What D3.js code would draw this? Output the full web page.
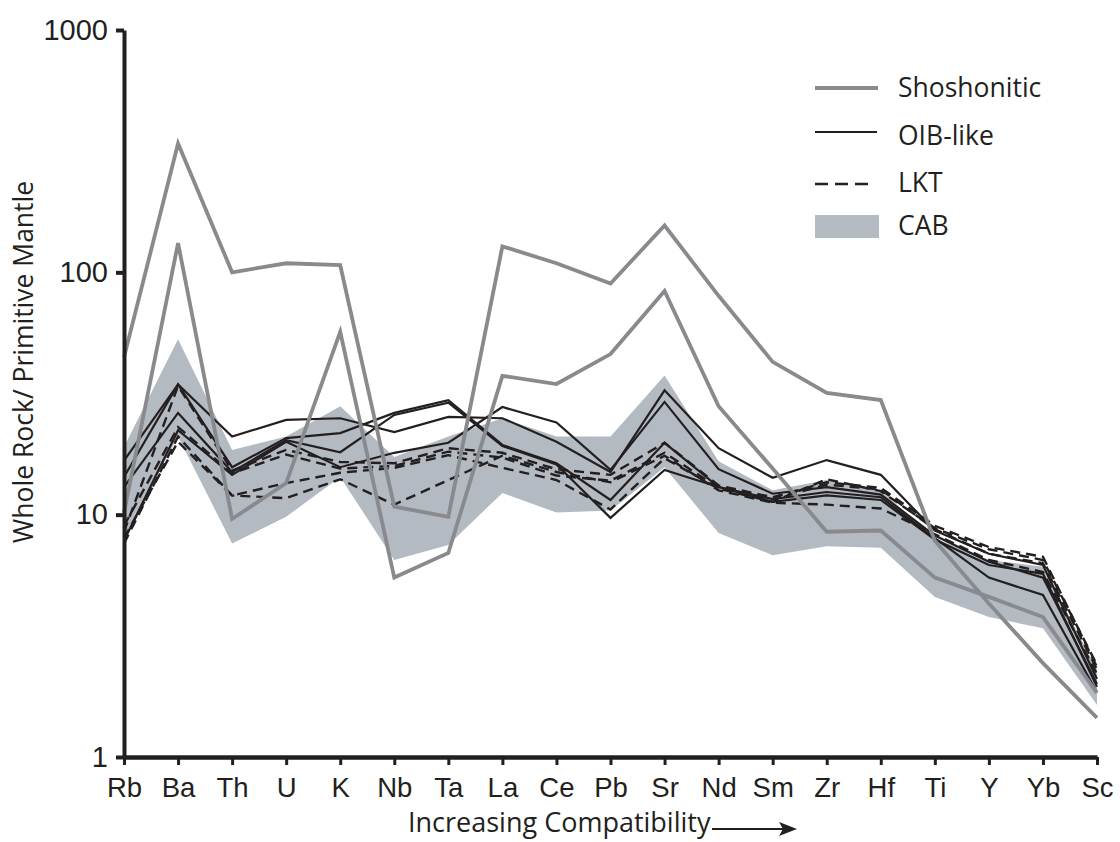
<!DOCTYPE html>
<html>
<head>
<meta charset="utf-8">
<script src="https://cdn.jsdelivr.net/npm/d3@7"></script>
<style>
  html, body { margin: 0; padding: 0; background: #ffffff; }
  svg { display: block; }
</style>
</head>
<body>
<svg id="chart" width="1120" height="842"></svg>
<script>
// ---------- data ----------
const elements = ["Rb","Ba","Th","U","K","Nb","Ta","La","Ce","Pb","Sr","Nd","Sm","Zr","Hf","Ti","Y","Yb","Sc"];
const yTicks = [1, 10, 100, 1000];

// CAB field (upper and lower envelope)
const cabUpper = [19, 53, 18.5, 21, 28, 17.3, 21, 25, 21, 21, 37.5, 16.6, 12.6, 13.9, 12.6, 8, 6.5, 6.1, 2.3];
const cabLower = [8, 21, 7.6, 9.8, 14.3, 6.5, 7.5, 12.3, 10.2, 10.4, 15.7, 8.4, 6.8, 7.4, 7.3, 4.57, 3.78, 3.4, 1.64];

// Shoshonitic samples
const shosh1 = [44.6, 340, 100, 109, 107, 10.8, 9.8, 128, 109, 90, 156, 80, 42.7, 31.8, 29.7, 7.8, 4.3, 2.44, 1.45];
const shosh2 = [10.2, 132, 9.6, 13.5, 56.8, 5.5, 6.95, 37.4, 34.6, 46, 83.8, 28, 15.5, 8.5, 8.6, 5.5, 4.58, 3.78, 1.84];

// OIB-like samples
const oib1 = [16.7, 34.5, 21, 24.6, 25, 21.9, 25.3, 25, 20, 15, 32.6, 18.8, 14.2, 16.8, 14.6, 8.6, 6.9, 6.2, 2.1];
const oib2 = [14.3, 34.5, 15.7, 20.7, 21.7, 26.3, 29.7, 19.4, 16.3, 11.5, 19.8, 13, 11.6, 12.4, 11.8, 8, 5.5, 4.66, 1.85];
const oib3 = [13, 26.3, 15, 20.3, 18.1, 25.8, 29, 19.2, 16.1, 9.7, 15.3, 13, 11.3, 12, 11.5, 7.9, 6.2, 5.7, 1.95];
const oib4 = [7.8, 22.3, 14.6, 20, 15.7, 18, 19.8, 27.8, 24, 15.3, 29.2, 15.4, 12.2, 13, 12.1, 8.2, 6.4, 5.5, 2.0];

// LKT samples
const lkt1 = [8.5, 34, 15.2, 18.5, 16.5, 16.3, 18.8, 18, 15.4, 14.6, 19.8, 13.2, 11.8, 13.6, 12.9, 9.0, 7.35, 6.7, 2.35];
const lkt2 = [8, 20, 12, 13.5, 14.9, 15.6, 17.6, 15.6, 13.9, 10.5, 17.1, 12.8, 11.3, 14, 12.5, 8.8, 7.2, 6.5, 2.4];
const lkt3 = [7.6, 21, 12, 11.7, 14, 11, 13.9, 17.5, 15, 13.6, 17.5, 12.6, 11.2, 11, 10.6, 8.3, 6.5, 5.8, 2.2];
const lkt4 = [9, 23, 14.8, 17.7, 15.5, 15.9, 18.2, 17.2, 14.5, 13.8, 18, 12.9, 11.6, 13.3, 12.7, 8.7, 6.9, 6.3, 2.3];

const legendLabels = ["Shoshonitic", "OIB-like", "LKT", "CAB"];

// ---------- drawing ----------
const svg = d3.select("#chart");
const BLACK = "#231f20", GREY = "#898a8d", FIELD = "#b4bac2";

const x = d3.scalePoint().domain(elements).range([124, 1097]);
const y = d3.scaleLog().domain([1, 1000]).range([757, 30]);

const line = d3.line().x((d, i) => x(elements[i])).y(d => y(d));
const area = d3.area()
  .x((d, i) => x(elements[i]))
  .y0(d => y(d[0]))
  .y1(d => y(d[1]));

// CAB field
svg.append("path")
  .datum(cabLower.map((v, i) => [v, cabUpper[i]]))
  .attr("d", area)
  .attr("fill", FIELD);

// LKT (dashed)
[lkt1, lkt2, lkt3, lkt4].forEach(s => {
  svg.append("path").datum(s).attr("d", line)
    .attr("fill", "none").attr("stroke", BLACK)
    .attr("stroke-width", 2.4).attr("stroke-dasharray", "10,6")
    .attr("stroke-linejoin", "miter");
});

// OIB-like (solid)
[oib1, oib2, oib3, oib4].forEach(s => {
  svg.append("path").datum(s).attr("d", line)
    .attr("fill", "none").attr("stroke", BLACK)
    .attr("stroke-width", 2.2).attr("stroke-linejoin", "miter");
});

// Shoshonitic (grey)
[shosh1, shosh2].forEach(s => {
  svg.append("path").datum(s).attr("d", line)
    .attr("fill", "none").attr("stroke", GREY)
    .attr("stroke-width", 3.8).attr("stroke-linejoin", "miter");
});

// Y axis
const yAxis = svg.append("g")
  .attr("transform", "translate(124,0)")
  .call(d3.axisLeft(y).tickValues(yTicks).tickFormat(d3.format("d"))
        .tickSize(8).tickSizeOuter(0).tickPadding(8));
yAxis.select(".domain").attr("stroke", BLACK).attr("stroke-width", 4);
yAxis.selectAll(".tick line").attr("stroke", BLACK).attr("stroke-width", 4);
yAxis.selectAll(".tick text")
  .attr("fill", BLACK)
  .style("font-family", "'Liberation Sans', Arial, sans-serif")
  .style("font-size", "29px");

// X axis
const xAxis = svg.append("g")
  .attr("transform", "translate(0,757)")
  .call(d3.axisBottom(x).tickSize(8).tickSizeOuter(0).tickPadding(12));
xAxis.select(".domain").attr("stroke", BLACK).attr("stroke-width", 4.5);
xAxis.selectAll(".tick line").attr("stroke", BLACK).attr("stroke-width", 3);
xAxis.selectAll(".tick text")
  .attr("fill", BLACK)
  .style("font-family", "'Liberation Sans', Arial, sans-serif")
  .style("font-size", "27.5px");

// Axis titles
svg.append("text")
  .attr("transform", "translate(33,362) rotate(-90)")
  .attr("text-anchor", "middle")
  .attr("fill", BLACK)
  .style("font-family", "'Open Sans', sans-serif")
  .style("font-size", "26.5px")
  .text("Whole Rock/ Primitive Mantle");

svg.append("text")
  .attr("x", 408).attr("y", 832)
  .attr("fill", BLACK)
  .style("font-family", "'Open Sans', sans-serif")
  .style("font-size", "27px")
  .text("Increasing Compatibility");

// arrow
svg.append("line")
  .attr("x1", 712).attr("x2", 784).attr("y1", 829).attr("y2", 829)
  .attr("stroke", BLACK).attr("stroke-width", 2.2);
svg.append("path")
  .attr("d", "M797,829 L779,822 L783,829 L779,836 Z")
  .attr("fill", BLACK);

// Legend
const lg = svg.append("g");
const lx = 815, tx = 898;
const rows = [88, 132, 184];
lg.append("line").attr("x1", lx).attr("x2", 878).attr("y1", rows[0]).attr("y2", rows[0])
  .attr("stroke", GREY).attr("stroke-width", 4);
lg.append("line").attr("x1", lx).attr("x2", 877).attr("y1", rows[1]).attr("y2", rows[1])
  .attr("stroke", BLACK).attr("stroke-width", 2.2);
lg.append("line").attr("x1", lx).attr("x2", 868).attr("y1", rows[2]).attr("y2", rows[2])
  .attr("stroke", BLACK).attr("stroke-width", 2.4).attr("stroke-dasharray", "13,7");
lg.append("rect").attr("x", lx).attr("y", 215).attr("width", 64).attr("height", 23)
  .attr("fill", FIELD);
const baselines = [97, 145, 192, 235];
legendLabels.forEach((t, i) => {
  lg.append("text").attr("x", tx).attr("y", baselines[i])
    .attr("fill", BLACK)
    .style("font-family", "'Open Sans', sans-serif")
    .style("font-size", "26.5px")
    .text(t);
});
</script>
</body>
</html>
